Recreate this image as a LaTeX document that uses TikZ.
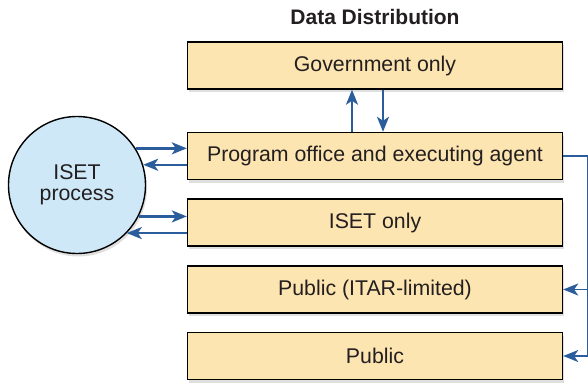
\documentclass[tikz,border=0pt]{standalone}
\usepackage{fontspec}
\setmainfont{Liberation Sans}
\usepackage{tikz}
\usetikzlibrary{arrows.meta,shadows}

\definecolor{boxfill}{HTML}{FDE5B1}
\definecolor{procfill}{HTML}{CFE8F8}
\definecolor{flowblue}{HTML}{2B5C9C}
\definecolor{inkgray}{HTML}{231F20}

\begin{document}
\begin{tikzpicture}[x=1pt,y=-1pt,
  font=\fontsize{21.3}{24}\selectfont,
  box/.style={draw=black,line width=1.4pt,fill=boxfill,text=inkgray,
    minimum width=375pt,minimum height=47pt,inner sep=0pt,
    drop shadow={shadow xshift=1.5pt,shadow yshift=-3pt,opacity=0.25}},
  proc/.style={draw=black,line width=1.4pt,fill=procfill,text=inkgray,circle,
    minimum size=137pt,inner sep=0pt,align=center,
    drop shadow={shadow xshift=1.5pt,shadow yshift=-3pt,opacity=0.25}},
  tip/.style={-{Stealth[length=15pt,width=12pt,inset=4pt]}},
  flow/.style={draw=flowblue,line width=2.4pt,tip},
  thinflow/.style={draw=flowblue,line width=1.2pt}]
\useasboundingbox (0,0) rectangle (588,383);

\node[font=\fontsize{21}{24}\selectfont\bfseries,text=inkgray] (title) at (375,17) {Data Distribution};

\foreach \name/\ypos/\txt in {gov/65.5/Government only, prog/156/Program office and executing agent,
    iset/222.5/ISET only, itar/289.5/Public (ITAR-limited), pub/356/Public}{
    \node[box] (\name) at (375,\ypos) {\txt};
}

\node[proc] (process) at (77,185) {ISET\\[-3pt]process};

\draw[flow] (process.32) -- (prog.west |- process.32);
\draw[flow] (prog.west |- process.17) -- (process.17);
\draw[flow] (process.-27) -- (iset.west |- process.-27);
\draw[flow] (iset.west |- process.-44) -- (process.-44);

\draw[flow] ([xshift=-23pt]prog.north) -- ([xshift=-23pt]gov.south);
\draw[flow] ([xshift=8pt]gov.south) -- ([xshift=8pt]prog.north);

\coordinate (bend) at ([xshift=24.5pt]prog.east);
\draw[thinflow] (prog.east) -- (bend) -- (bend |- pub.east);
\draw[thinflow,line width=1.6pt,tip] (bend |- itar.east) -- (itar.east);
\draw[thinflow,line width=1.6pt,tip] (bend |- pub.east) -- (pub.east);

\end{tikzpicture}
\end{document}
